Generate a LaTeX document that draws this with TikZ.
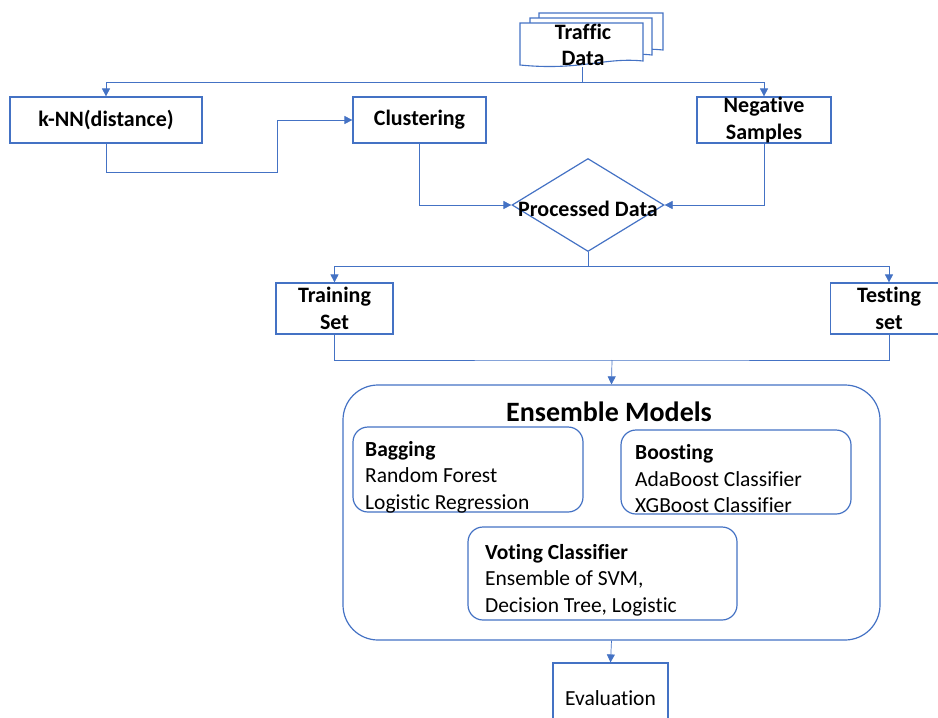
\documentclass[tikz,border=0pt]{standalone}
\usepackage{fontspec}
\setmainfont{Carlito}[RawFeature=-liga, RawFeature=-calt, RawFeature=-dlig]
\usetikzlibrary{shapes.geometric,arrows.meta}
\definecolor{ob}{HTML}{4472C4}
\begin{document}
\begin{tikzpicture}[x=1pt,y=-1pt,
  box/.style={draw=ob, line width=1.2pt, fill=white, inner sep=0pt, align=center,
    font=\bfseries\fontsize{22}{26.5}\selectfont},
  rbox/.style={draw=ob, line width=1.2pt, fill=white, inner sep=0pt, rounded corners=15pt},
  txt/.style={inner sep=0pt, align=left, anchor=west, font=\fontsize{21.5}{26.5}\selectfont},
  doc/.style={draw=ob, line width=1.1pt, fill=white},
  line/.style={draw=ob, line width=0.7pt},
  conn/.style={draw=ob, line width=0.7pt, -{Triangle[length=8pt,width=8pt]}}]
\useasboundingbox (0,0) rectangle (938,718);

% Traffic data (multi-document)
\draw[doc] (539,13) -- (663,13) -- (663,50) .. controls (625,46) and (600,58) .. (539,53) -- cycle;
\draw[doc] (530,18) -- (652,18) -- (652,55) .. controls (615,51) and (590,63) .. (530,58) -- cycle;
\draw[doc] (520,23) -- (643,23) -- (643,61) .. controls (605,57) and (580,71) .. (520,65) -- cycle;
\node[inner sep=0pt, align=center, font=\bfseries\fontsize{22}{26.5}\selectfont] (traffic) at (583,45) {Traffic\\Data};
\coordinate (tdb) at (582,67);
\coordinate (split1) at (582,82);

% Boxes
\node[box, minimum width=192pt, minimum height=46pt] (knn) at (106,120) {k-NN(distance)};
\node[box, minimum width=133pt, minimum height=46pt] (clus) at (419.5,120) {Clustering};
\node[box, minimum width=134pt, minimum height=46pt] (neg) at (764,120) {Negative\\Samples};
\node[draw=ob, line width=1.2pt, diamond, inner sep=0pt, minimum width=152pt, minimum height=93pt] (pd) at (588,205) {};
\node[inner sep=0pt, font=\bfseries\fontsize{22}{26.5}\selectfont] (pdt) at (588,209) {Processed Data};
\coordinate (split2) at (588,266);
\node[box, minimum width=117pt, minimum height=51pt] (train) at (334.5,308.5) {Training\\Set};
\node[box, minimum width=117pt, minimum height=51pt] (test) at (889,308.5) {Testing\\set};
\coordinate (join) at (612,360);

% Ensemble
\node[draw=ob, line width=1.2pt, inner sep=0pt, rounded corners=35pt, minimum width=537pt, minimum height=255pt] (ens) at (611.5,512.5) {};
\node[inner sep=0pt, font=\bfseries\fontsize{28}{32}\selectfont] (enst) at (609,412) {Ensemble Models};
\node[rbox, minimum width=230pt, minimum height=85pt] (bag) at (468,469.5) {};
\node[txt] (bagt) at (365,477) {\textbf{Bagging}\\Random Forest\\Logistic Regression};
\node[rbox, minimum width=230pt, minimum height=84pt] (boost) at (736,472) {};
\node[txt] (boostt) at (635,479) {\textbf{Boosting}\\AdaBoost Classifier\\XGBoost Classifier};
\node[rbox, minimum width=269pt, minimum height=93pt] (vote) at (602.5,573.5) {};
\node[txt] (votet) at (485,580) {\textbf{Voting Classifier}\\Ensemble of SVM,\\Decision Tree, Logistic};

\node[draw=ob, line width=1.2pt, inner sep=0pt, minimum width=115pt, minimum height=70pt,
  font=\fontsize{21.5}{26}\selectfont] (eval) at (610.5,698) {Evaluation};

% Connectors
\draw[line] (tdb) -- (split1);
\draw[conn] (split1) -| (knn);
\draw[conn] (split1) -| (neg);
\draw[conn] (knn.south) |- (277,172) |- (clus.west);
\draw[conn] (clus.south) |- (pd.west);
\draw[conn] (neg.south) |- (pd.east);
\draw[line] (pd.south) -- (split2);
\draw[conn] (split2) -| (train);
\draw[conn] (split2) -| (test);
\draw[line] (train.south) |- (join) -| (test.south);
\draw[conn] (join) -- (ens.north);
\draw[conn] (ens.south) -- (eval.north);
\end{tikzpicture}
\end{document}
